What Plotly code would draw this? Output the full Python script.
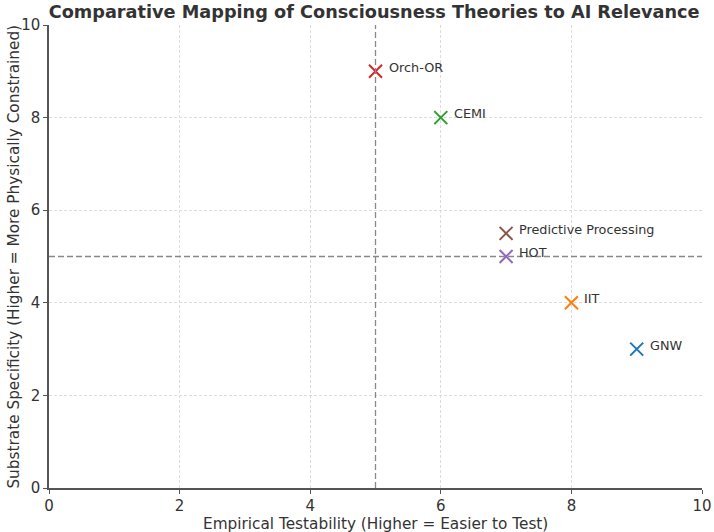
import plotly.graph_objects as go

theories = ["IIT", "GNW", "HOT", "Predictive Processing", "Orch-OR", "CEMI"]
testability = [8, 9, 7, 7, 5, 6]
specificity = [4, 3, 5, 5.5, 9, 8]
colors = ["#ff7f0e", "#1f77b4", "#9467bd", "#8c564b", "#d62728", "#2ca02c"]
x_title = "Empirical Testability (Higher = Easier to Test)"
y_title = "Substrate Specificity (Higher = More Physically Constrained)"

FONT = "DejaVu Sans"
fig = go.Figure()
for name, x, y, c in zip(theories, testability, specificity, colors):
    fig.add_trace(go.Scatter(x=[x], y=[y], mode="markers", name=name,
                             marker=dict(symbol="x-thin", size=13, line=dict(width=2, color=c), color=c),
                             showlegend=False))
    fig.add_annotation(x=x, y=y, text=name, showarrow=False, xanchor="left", yanchor="middle",
                       xshift=11, yshift=4, font=dict(family=FONT, size=12.8, color="#333333"))

fig.add_vline(x=5, line=dict(color="#888888", width=1.3, dash="6px,3px"))
fig.add_hline(y=5, line=dict(color="#888888", width=1.3, dash="6px,3px"))

axis_common = dict(range=[0, 10], dtick=2, showgrid=True, gridcolor="#dcdcdc", griddash="3px,2px",
                   gridwidth=1, zeroline=False, showline=True, linecolor="#555555", linewidth=1.5,
                   ticks="outside", ticklen=4, tickcolor="#555555", automargin=False,
                   tickfont=dict(family=FONT, size=15, color="#333333"))
fig.update_xaxes(**axis_common, ticklabelstandoff=-1)
fig.update_yaxes(**axis_common)

fig.add_annotation(text=x_title, xref="paper", yref="paper", x=0.5, y=-0.078,
                   xanchor="center", yanchor="middle", showarrow=False,
                   font=dict(family=FONT, size=15.3, color="#333333"))
fig.add_annotation(text=y_title, xref="paper", yref="paper", x=-0.055, y=0.5, textangle=-90,
                   xanchor="center", yanchor="middle", showarrow=False,
                   font=dict(family=FONT, size=15.3, color="#333333"))

fig.update_layout(
    width=714, height=532,
    margin=dict(l=49, r=12, t=25, b=44),
    plot_bgcolor="white", paper_bgcolor="white",
    title=dict(text="<b>Comparative Mapping of Consciousness Theories to AI Relevance</b>",
               x=0.524, xanchor="center", y=0.977, yanchor="middle",
               font=dict(family=FONT, size=17.7, color="#333333")),
)
fig.write_html("out.html")
